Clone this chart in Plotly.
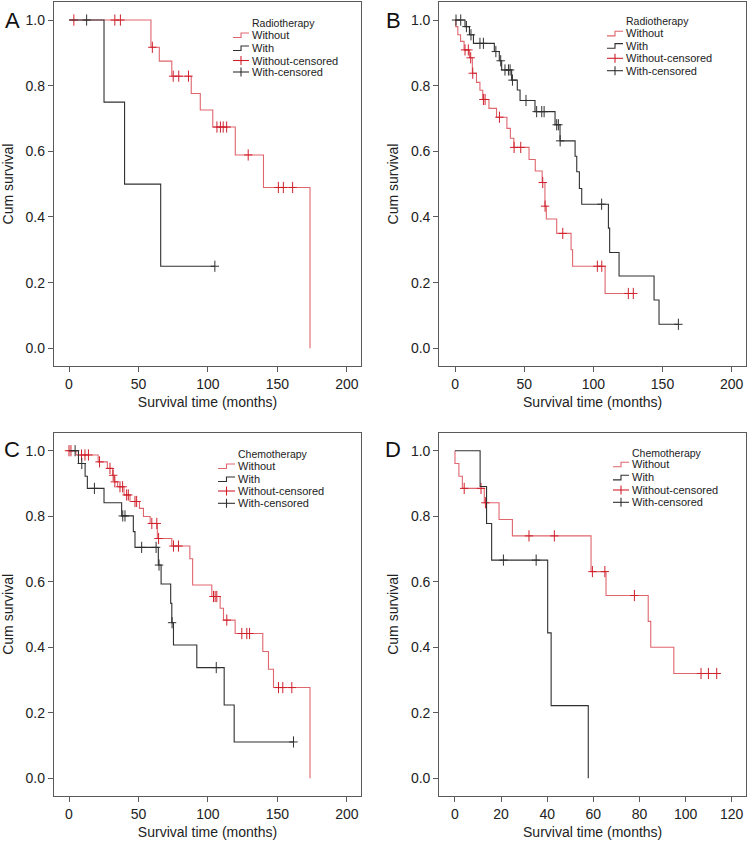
import plotly.graph_objects as go

W, H = 749, 843
FONT = "Liberation Sans, Arial, sans-serif"
RED_LINE = "#e0666e"
RED_MARK = "#d0202c"
BLACK = "#303030"
FRAME = "#5a5a5a"

# ---- Panel A: radiotherapy (left group) ----
a_without_t = [59, 65, 74, 88, 94.5, 103.5, 119.7, 140, 173.5]
a_without_s = [0.917, 0.875, 0.829, 0.776, 0.726, 0.674, 0.589, 0.49, 0.0]
a_without_c = [3.5, 33, 37, 60, 75, 79, 86, 106.5, 109, 111, 113.5, 129, 150.7, 154.3, 161]
a_with_t = [25.2, 40, 66]
a_with_s = [0.75, 0.5, 0.25]
a_with_c = [12.7, 105]

# ---- Panel B: radiotherapy (right group) ----
b_without_t = [0.5, 2, 4, 6.5, 10.5, 12.5, 15.5, 18, 20, 24.5, 30, 37.5, 40, 42.5,
               53.5, 58, 63, 65, 66, 73.5, 83.9, 85, 108.5]
b_without_s = [0.98, 0.955, 0.935, 0.909, 0.885, 0.838, 0.81, 0.786, 0.758, 0.731,
               0.704, 0.67, 0.64, 0.612, 0.575, 0.54, 0.505, 0.433, 0.394, 0.35,
               0.30, 0.25, 0.167]
b_without_c = [7.2, 9.6, 11.3, 12.8, 20.5, 21.7, 32.1, 42.7, 47.5, 63.4, 65.1, 77.9,
               102.9, 106.1, 125.3, 128.9]
b_with_t = [7.2, 10.4, 13.3, 28.4, 32, 33.7, 40.9, 45, 47, 57.8, 72.3, 75.9, 86.8,
            88, 89.9, 91.6, 110.9, 111.8, 118.6, 143.9, 147.5]
b_with_s = [0.98, 0.955, 0.929, 0.904, 0.876, 0.848, 0.817, 0.787, 0.755, 0.721,
            0.681, 0.632, 0.585, 0.538, 0.487, 0.439, 0.366, 0.292, 0.22, 0.147, 0.073]
b_with_c = [0.7, 4.1, 8.2, 11.5, 18, 20.5, 29.5, 33, 36.1, 38.6, 39.8, 41.5, 51.3,
            59, 62.7, 64.4, 73.5, 74.7, 76, 106, 161.5]

# ---- Panel C: chemotherapy (left group) ----
c_without_t = [5, 21, 27.6, 31.4, 32.6, 35, 39.6, 43.9, 50.7, 53.6, 58.4, 63.6, 74,
               87, 89, 102.8, 108.8, 111.2, 119.6, 139.5, 143.6, 147.2, 173.5]
c_without_s = [0.987, 0.966, 0.946, 0.925, 0.905, 0.89, 0.865, 0.845, 0.824, 0.799,
               0.778, 0.732, 0.709, 0.67, 0.59, 0.555, 0.519, 0.483, 0.442, 0.387,
               0.333, 0.277, 0.0]
c_without_c = [0, 1.4, 9, 11.5, 14, 22, 29.5, 31.8, 33, 36.7, 38.6, 41.5, 42.7, 47.5,
               48.7, 59.6, 63.2, 64.5, 75.2, 78.8, 104, 105.2, 106.4, 113.6, 124.4,
               128, 130, 150.8, 153.9, 160.4]
c_with_t = [6.8, 11.6, 13.2, 25.2, 37.9, 46.3, 47.5, 64.3, 66.3, 73.2, 74, 75.2, 92,
            111.7, 118.9]
c_with_s = [0.961, 0.922, 0.885, 0.841, 0.801, 0.753, 0.705, 0.651, 0.593, 0.534,
            0.475, 0.407, 0.338, 0.224, 0.111]
c_with_c = [4.4, 9.2, 18.3, 38.7, 40.3, 52.3, 62.7, 64.8, 74.2, 106, 161.6]

# ---- Panel D: chemotherapy (right group) ----
d_without_t = [0, 1.7, 3.2, 12.7, 19.1, 24.9, 59, 65.5, 83.8, 84.9, 94.9]
d_without_s = [0.961, 0.922, 0.885, 0.841, 0.79, 0.74, 0.631, 0.558, 0.479, 0.40, 0.32]
d_without_c = [4, 11.3, 13.2, 32.1, 43.1, 59.6, 65, 77.8, 106.7, 109.9, 113.5]
d_with_t = [10.9, 13.7, 15.9, 40.2, 41.7, 57.8]
d_with_s = [0.891, 0.778, 0.666, 0.444, 0.222, 0.0]
d_with_c = [21, 35.2]

y_ticks = [0.0, 0.2, 0.4, 0.6, 0.8, 1.0]
x_ticks_200 = [0, 50, 100, 150, 200]
x_ticks_120 = [0, 20, 40, 60, 80, 100, 120]


def surv_at(times, surv, t):
    s = 1.0
    for ti, si in zip(times, surv):
        if ti <= t:
            s = si
    return s


def km_traces(times, surv, cens, line_col, mark_col, ax):
    xs = [0] + list(times)
    ys = [1.0] + list(surv)
    if cens and max(cens) > xs[-1]:
        xs.append(max(cens))
        ys.append(ys[-1])
    line = go.Scatter(x=xs, y=ys, mode="lines", line=dict(shape="hv", color=line_col, width=1.1),
                      xaxis="x" + ax, yaxis="y" + ax, showlegend=False, hoverinfo="skip")
    cy = [surv_at(times, surv, c) for c in cens]
    # censor "+" ticks: a taller vertical stroke plus a short horizontal one
    marks = go.Scatter(x=cens, y=cy, mode="markers",
                       marker=dict(symbol="line-ns", size=8, line=dict(color=mark_col, width=1)),
                       xaxis="x" + ax, yaxis="y" + ax, showlegend=False, hoverinfo="skip")
    marks2 = go.Scatter(x=cens, y=cy, mode="markers",
                        marker=dict(symbol="line-ew", size=6, line=dict(color=mark_col, width=1)),
                        xaxis="x" + ax, yaxis="y" + ax, showlegend=False, hoverinfo="skip")
    return [line, marks, marks2]


fig = go.Figure()
panels = [
    ("", a_without_t, a_without_s, a_without_c, a_with_t, a_with_s, a_with_c),
    ("2", b_without_t, b_without_s, b_without_c, b_with_t, b_with_s, b_with_c),
    ("3", c_without_t, c_without_s, c_without_c, c_with_t, c_with_s, c_with_c),
    ("4", d_without_t, d_without_s, d_without_c, d_with_t, d_with_s, d_with_c),
]
for ax, wt, ws, wc, ht, hs, hc in panels:
    for tr in km_traces(wt, ws, wc, RED_LINE, RED_MARK, ax):
        fig.add_trace(tr)
    for tr in km_traces(ht, hs, hc, BLACK, BLACK, ax):
        fig.add_trace(tr)


def xpaper(px):
    return px / W


def ypaper(py):
    return 1 - py / H


# frame positions (pixels)
left_dom = [xpaper(54), xpaper(361)]
right_dom = [xpaper(439.3), xpaper(746)]
top_dom = [ypaper(366), ypaper(2)]
bot_dom = [ypaper(796), ypaper(432.7)]

common = dict(showline=True, linecolor=FRAME, linewidth=1.3, mirror=True, ticks="outside",
              ticklen=5, tickwidth=1.2, tickcolor=FRAME, showgrid=False, zeroline=False,
              tickfont=dict(family=FONT, size=14, color="#222"), automargin=False)


def xax(domain, anchor, rng, ticks):
    return dict(common, domain=domain, anchor=anchor, range=rng, tickvals=ticks,
                title=dict(text="Survival time (months)", standoff=6,
                           font=dict(family=FONT, size=14, color="#222")))


def yax(domain, anchor):
    return dict(common, domain=domain, anchor=anchor, range=[-0.054, 1.055], tickvals=y_ticks,
                tickformat=".1f",
                title=dict(text="Cum survival", standoff=8,
                           font=dict(family=FONT, size=14, color="#222")))


fig.update_layout(
    width=W, height=H, margin=dict(l=0, r=0, t=0, b=0),
    paper_bgcolor="white", plot_bgcolor="white", showlegend=False,
    font=dict(family=FONT, color="#222"),
    xaxis=xax(left_dom, "y", [-10.8, 210.2], x_ticks_200),
    yaxis=yax(top_dom, "x"),
    xaxis2=xax(right_dom, "y2", [-11.4, 210.4], x_ticks_200),
    yaxis2=yax(top_dom, "x2"),
    xaxis3=xax(left_dom, "y3", [-10.8, 210.2], x_ticks_200),
    yaxis3=yax(bot_dom, "x3"),
    xaxis4=xax(right_dom, "y4", [-6.8, 126.2], x_ticks_120),
    yaxis4=yax(bot_dom, "x4"),
)

annotations = []
shapes = []

# panel letters
for letter, lx, ly in [("A", 12, 20), ("B", 393, 20), ("C", 12, 450), ("D", 393, 450)]:
    annotations.append(dict(text=letter, x=xpaper(lx), y=ypaper(ly), xref="paper", yref="paper",
                            showarrow=False, xanchor="center", yanchor="middle",
                            font=dict(family=FONT, size=22, color="#111")))

# hand-built legends (title, four entries with step / censor glyphs)
legend_specs = [
    ("Radiotherapy", 250, 23, [35, 48, 60.5, 72], 233),
    ("Radiotherapy", 624, 21, [33.3, 45.7, 58.3, 70.7], 607),
    ("Chemotherapy", 236, 454, [466, 479, 491, 503.3], 218),
    ("Chemotherapy", 630, 452.7, [464.3, 477.3, 490, 502.3], 613),
]
entry_names = ["Without", "With", "Without-censored", "With-censored"]
entry_cols = [RED_LINE, BLACK, RED_MARK, BLACK]
for title, tx, ty, eys, gx in legend_specs:
    annotations.append(dict(text=title, x=xpaper(tx), y=ypaper(ty), xref="paper", yref="paper",
                            showarrow=False, xanchor="left", yanchor="middle",
                            font=dict(family=FONT, size=10.5, color="#222")))
    for i, (name, ey) in enumerate(zip(entry_names, eys)):
        annotations.append(dict(text=name, x=xpaper(tx), y=ypaper(ey), xref="paper", yref="paper",
                                showarrow=False, xanchor="left", yanchor="middle",
                                font=dict(family=FONT, size=11, color="#222")))
        col = entry_cols[i]
        gx1 = tx - 1
        mid = (gx + gx1) / 2
        if i < 2:
            path = "M {:.4f},{:.4f} L {:.4f},{:.4f} L {:.4f},{:.4f} L {:.4f},{:.4f}".format(
                xpaper(gx), ypaper(ey + 2.5), xpaper(mid), ypaper(ey + 2.5),
                xpaper(mid), ypaper(ey - 2), xpaper(gx1), ypaper(ey - 2))
            shapes.append(dict(type="path", path=path, xref="paper", yref="paper",
                               line=dict(color=col, width=1.1)))
        else:
            shapes.append(dict(type="line", x0=xpaper(gx), x1=xpaper(gx1), y0=ypaper(ey),
                               y1=ypaper(ey), xref="paper", yref="paper",
                               line=dict(color=col, width=1.1)))
            shapes.append(dict(type="line", x0=xpaper(mid), x1=xpaper(mid), y0=ypaper(ey - 4.5),
                               y1=ypaper(ey + 4.5), xref="paper", yref="paper",
                               line=dict(color=col, width=1.1)))

fig.update_layout(annotations=annotations, shapes=shapes)

# the page body has a default 8px margin; remove it so the figure fills the window
fig.write_html("out.html", config={"displayModeBar": False},
               post_script="document.body.style.margin='0';document.body.style.overflow='hidden';")
